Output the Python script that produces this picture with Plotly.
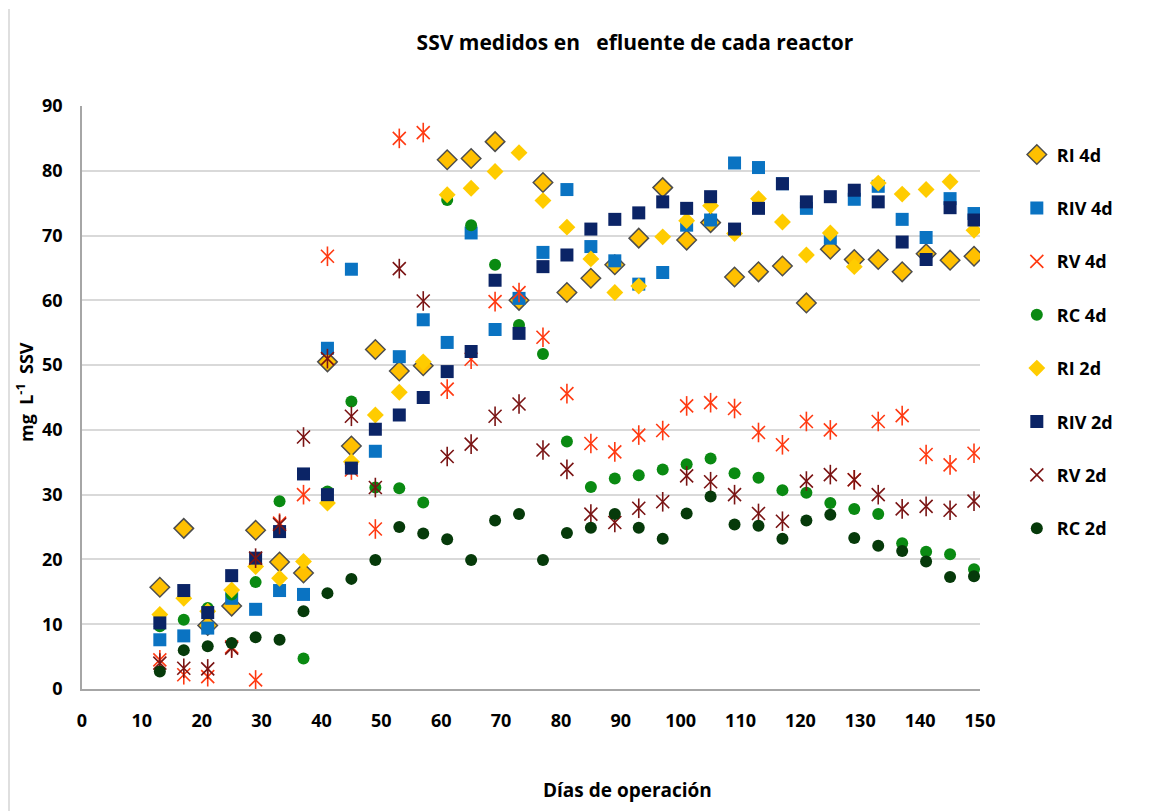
import plotly.graph_objects as go

days = [13, 17, 21, 25, 29, 33, 37, 41, 45, 49, 53, 57, 61, 65, 69, 73, 77, 81,
        85, 89, 93, 97, 101, 105, 109, 113, 117, 121, 125, 129, 133, 137, 141, 145, 149]

ri_4d = [15.7, 24.8, 9.8, 12.8, 24.5, 19.6, 17.9, 50.5, 37.5, 52.4, 49.1, 49.9, 81.7, 81.9,
         84.5, 60.0, 78.2, 61.2, 63.4, 65.5, 69.6, 77.4, 69.3, 72.0, 63.6, 64.4, 65.3, 59.6,
         67.9, 66.3, 66.3, 64.4, 67.2, 66.2, 66.8]
riv_4d = [7.6, 8.2, 9.4, 14.0, 12.3, 15.2, 14.6, 52.6, 64.8, 36.7, 51.3, 57.0, 53.5, 70.4,
          55.5, 60.3, 67.4, 77.1, 68.3, 66.1, 62.5, 64.3, 71.6, 72.4, 81.2, 80.5, 78.0, 74.2,
          69.6, 75.6, 77.6, 72.5, 69.7, 75.7, 73.4]
rv_4d = [4.5, 2.2, 1.9, 6.5, 1.4, 25.6, 30.0, 66.8, 33.8, 24.7, 85.0, 85.9, 46.3, 50.9,
         59.8, 61.2, 54.3, 45.6, 37.9, 36.6, 39.2, 39.9, 43.7, 44.2, 43.3, 39.6, 37.7, 41.3,
         40.0, 32.3, 41.3, 42.2, 36.2, 34.6, 36.4]
rc_4d = [9.7, 10.7, 12.5, 14.6, 16.5, 29.0, 4.7, 30.5, 44.4, 31.1, 31.0, 28.8, 75.5, 71.6,
         65.5, 56.2, 51.7, 38.2, 31.2, 32.5, 33.0, 33.9, 34.7, 35.6, 33.3, 32.6, 30.7, 30.3,
         28.7, 27.8, 27.0, 22.5, 21.2, 20.8, 18.5]
ri_2d = [11.5, 14.0, 12.0, 15.3, 18.9, 17.1, 19.7, 28.7, 35.1, 42.3, 45.8, 50.5, 76.3, 77.3,
         79.9, 82.8, 75.4, 71.3, 66.4, 61.2, 62.2, 69.8, 72.3, 74.6, 70.3, 75.7, 72.1, 67.0,
         70.4, 65.2, 78.1, 76.4, 77.1, 78.3, 70.8]
riv_2d = [10.2, 15.2, 11.8, 17.5, 20.2, 24.3, 33.2, 30.0, 34.1, 40.1, 42.3, 45.0, 49.0, 52.1,
          63.1, 54.9, 65.2, 67.0, 71.0, 72.5, 73.5, 75.2, 74.2, 76.0, 71.0, 74.2, 78.0, 75.2,
          76.0, 77.0, 75.2, 69.0, 66.3, 74.3, 72.4]
rv_2d = [4.0, 3.2, 3.1, 6.3, 20.2, 25.4, 38.9, 51.0, 42.1, 31.1, 64.9, 59.9, 35.9, 37.8,
         42.1, 44.0, 36.9, 33.9, 27.0, 25.7, 27.9, 28.9, 32.9, 32.0, 30.0, 27.1, 25.9, 32.1,
         33.1, 32.3, 30.0, 27.8, 28.2, 27.6, 29.0]
rc_2d = [2.7, 6.0, 6.6, 7.1, 8.0, 7.6, 12.0, 14.8, 17.0, 19.9, 25.0, 24.0, 23.1, 19.9,
         26.0, 27.0, 19.9, 24.1, 24.9, 27.0, 24.9, 23.2, 27.1, 29.7, 25.4, 25.2, 23.2, 26.0,
         26.9, 23.3, 22.1, 21.3, 19.7, 17.3, 17.4]

x_ticks = list(range(0, 151, 10))
y_ticks = list(range(0, 91, 10))

FONT = "Open Sans"
fig = go.Figure()

series = [
    ("RI 4d", ri_4d, "diamond", "#FFC000", 15, dict(color="#4D4D4D", width=1.5)),
    ("RIV 4d", riv_4d, "square", "#0A73C2", 13, dict(width=0)),
    ("RV 4d", rv_4d, "star", "#FF3A12", 13, None),
    ("RC 4d", rc_4d, "circle", "#0A8A12", 12, dict(width=0)),
    ("RI 2d", ri_2d, "diamond", "#FFCC00", 13, dict(width=0)),
    ("RIV 2d", riv_2d, "square", "#0B2466", 13, dict(width=0)),
    ("RV 2d", rv_2d, "star", "#7A1414", 13, None),
    ("RC 2d", rc_2d, "circle", "#063A0A", 12, dict(width=0)),
]

for i, (name, vals, sym, col, size, line) in enumerate(series):
    grp = f"g{i}"
    if sym == "star":
        fig.add_trace(go.Scatter(
            x=days, y=vals, mode="markers", name=name, legendgroup=grp,
            marker=dict(symbol="x-thin-open", size=size, color=col,
                        line=dict(color=col, width=1.6))))
        fig.add_trace(go.Scatter(
            x=days, y=vals, mode="markers", name=name, legendgroup=grp, showlegend=False,
            marker=dict(symbol="line-ns-open", size=size + 1, color=col,
                        line=dict(color=col, width=1.6))))
    else:
        mk = dict(symbol=sym, size=size, color=col)
        if line is not None:
            mk["line"] = line
        fig.add_trace(go.Scatter(x=days, y=vals, mode="markers", name=name,
                                 legendgroup=grp, marker=mk))

# page is offset by the 8px default body margin
W, H = 1164, 803
fig.update_layout(
    width=W, height=H,
    margin=dict(l=74, r=192, t=98, b=122),
    paper_bgcolor="white", plot_bgcolor="white",
    font=dict(family=FONT, color="#000000", size=16),
    title=dict(text="SSV medidos en   efluente de cada reactor",
               x=(635 - 8) / W, xanchor="center", xref="container",
               y=1 - (43 - 8) / H, yanchor="middle", yref="container",
               font=dict(family=FONT, size=21, weight="bold", color="#000")),
    showlegend=True,
    legend=dict(x=1.041, xanchor="left", y=0.948, yanchor="top",
                font=dict(family=FONT, size=18, weight="bold", color="#000"),
                tracegroupgap=27, itemwidth=30, bgcolor="rgba(0,0,0,0)"),
    xaxis=dict(range=[0, 150], tickvals=x_ticks, ticktext=[str(v) for v in x_ticks],
               showgrid=False, zeroline=False, showline=True, linecolor="#A6A6A6",
               linewidth=1.5, ticks="", ticklabelstandoff=15,
               tickfont=dict(family=FONT, size=18, weight="bold", color="#000")),
    yaxis=dict(range=[0, 90], tickvals=y_ticks, ticktext=[str(v) for v in y_ticks],
               showgrid=True, gridcolor="#D9D9D9", gridwidth=1.5, zeroline=False,
               showline=True, linecolor="#A6A6A6", linewidth=1.5, ticks="",
               ticklabelstandoff=14,
               tickfont=dict(family=FONT, size=18, weight="bold", color="#000")),
    annotations=[
        dict(text="Días de operación", xref="paper", yref="paper",
             x=(627 - 82) / 898, y=(689 - 790) / 583, xanchor="center", yanchor="middle",
             showarrow=False, font=dict(family=FONT, size=19, weight="bold", color="#000")),
        dict(text="mg  L<sup>-1</sup>  SSV", xref="paper", yref="paper",
             x=(25 - 82) / 898, y=(689 - 392) / 583, xanchor="center", yanchor="middle",
             textangle=-90, showarrow=False,
             font=dict(family=FONT, size=18, weight="bold", color="#000")),
    ],
    shapes=[
        dict(type="line", xref="paper", yref="paper",
             x0=(9 - 82) / 898, x1=(9 - 82) / 898,
             y0=(689 - 811) / 583, y1=(689 - 9) / 583,
             line=dict(color="#BFBFBF", width=1), layer="below"),
    ],
)

fig.write_html("out.html")
